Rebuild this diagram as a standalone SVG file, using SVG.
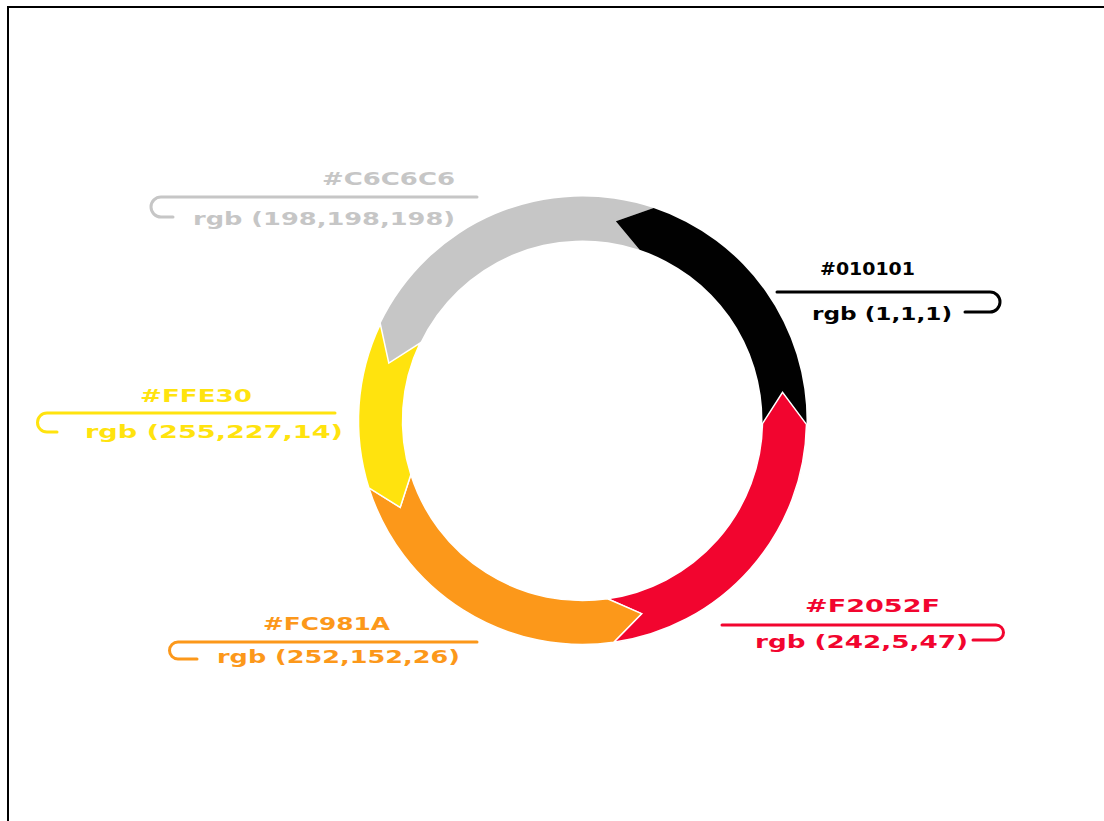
<svg xmlns="http://www.w3.org/2000/svg" width="1104" height="821" viewBox="0 0 1104 821">
  <style>
    .seg { stroke: #ffffff; stroke-width: 1.5; stroke-linejoin: miter; }
    .seg-plain { stroke: none; }
    .lead { fill: none; stroke-width: 3; stroke-linecap: round; stroke-linejoin: round; }
    .lbl { font-family: "DejaVu Sans", "Liberation Sans", sans-serif; font-size: 18px; font-weight: bold; }
  </style>

  <!-- frame -->
  <rect x="8" y="7" width="1200" height="1000" fill="#ffffff" stroke="#000000" stroke-width="2"/>

  <!-- ring segments: centre (582.5,420.5), outer r 224, inner r 180 -->
  <g id="seg-c6c6c6">
    <path class="seg-plain" fill="#C6C6C6" d="M380.32,324.07 A224,224 0 0 1 653.58,208.08 L615.84,221.27 L639.61,249.80 A180,180 0 0 0 420.03,343.01 L388.82,363.13 Z"/>
  </g>
  <g id="seg-010101">
    <path class="seg-plain" fill="#010101" d="M653.58,208.08 A224,224 0 0 1 806.47,424.41 L782.53,392.39 L762.47,423.64 A180,180 0 0 0 639.61,249.80 L615.84,221.27 Z"/>
  </g>
  <g id="seg-f2052f">
    <path class="seg" fill="#F2052F" d="M806.47,424.41 A224,224 0 0 1 613.67,642.32 L641.56,613.67 L607.55,598.75 A180,180 0 0 0 762.47,423.64 L782.53,392.39 Z"/>
  </g>
  <g id="seg-fc981a">
    <path class="seg" fill="#FC981A" d="M613.67,642.32 A224,224 0 0 1 368.87,487.86 L400.18,507.46 L410.83,474.63 A180,180 0 0 0 607.55,598.75 L641.56,613.67 Z"/>
  </g>
  <g id="seg-ffe30e">
    <path class="seg" fill="#FFE30E" d="M368.87,487.86 A224,224 0 0 1 380.32,324.07 L388.82,363.13 L420.03,343.01 A180,180 0 0 0 410.83,474.63 L400.18,507.46 Z"/>
  </g>

  <!-- leader hooks -->
  <g id="connectors">
    <path class="lead" stroke="#C6C6C6" d="M477,197 H161 A10,10 0 0 0 161,217 H173"/>
    <path class="lead" stroke="#010101" d="M777,292 H990 A10,10 0 0 1 990,312 H965"/>
    <path class="lead" stroke="#FFE30E" d="M335,413 H47 A9.5,9.5 0 0 0 47,432 H57"/>
    <path class="lead" stroke="#FC981A" d="M477,642 H178 A8.5,8.5 0 0 0 178,659 H197"/>
    <path class="lead" stroke="#F2052F" d="M722,625 H996 A7.5,7.5 0 0 1 996,640 H973"/>
  </g>

  <!-- colour labels -->
  <g id="label-c6c6c6" class="lbl" fill="#C6C6C6">
    <text x="322" y="185" textLength="133" lengthAdjust="spacingAndGlyphs">#C6C6C6</text>
    <text x="193" y="225" textLength="262" lengthAdjust="spacingAndGlyphs">rgb (198,198,198)</text>
  </g>
  <g id="label-010101" class="lbl" fill="#010101">
    <text x="820" y="275" textLength="95" lengthAdjust="spacingAndGlyphs">#010101</text>
    <text x="812" y="320" textLength="140" lengthAdjust="spacingAndGlyphs">rgb (1,1,1)</text>
  </g>
  <g id="label-ffe30e" class="lbl" fill="#FFE30E">
    <text x="140" y="402" textLength="112" lengthAdjust="spacingAndGlyphs">#FFE30</text>
    <text x="85" y="438" textLength="258" lengthAdjust="spacingAndGlyphs">rgb (255,227,14)</text>
  </g>
  <g id="label-fc981a" class="lbl" fill="#FC981A">
    <text x="263" y="630" textLength="127" lengthAdjust="spacingAndGlyphs">#FC981A</text>
    <text x="217" y="663" textLength="243" lengthAdjust="spacingAndGlyphs">rgb (252,152,26)</text>
  </g>
  <g id="label-f2052f" class="lbl" fill="#F2052F">
    <text x="805" y="612" textLength="135" lengthAdjust="spacingAndGlyphs">#F2052F</text>
    <text x="755" y="648" textLength="213" lengthAdjust="spacingAndGlyphs">rgb (242,5,47)</text>
  </g>
</svg>
